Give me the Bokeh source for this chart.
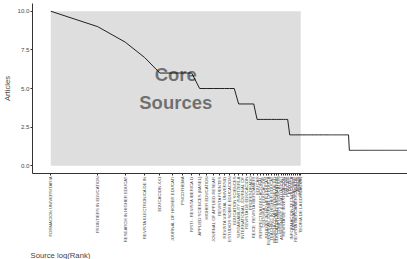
import numpy as np
from bokeh.plotting import figure
from bokeh.models import FixedTicker, NumeralTickFormatter, Range1d, Title
from bokeh.core.properties import value
from bokeh.embed import file_html
from bokeh.resources import INLINE

# ---- data ----
sources = [
    "FORMACION UNIVERSITARIA", "FRONTIERS IN EDUCATION", "RESEARCH IN HIGHER EDUCAT",
    "REVISTA ELECTRONICA DE IN", "EDUCACION XX1", "JOURNAL OF HIGHER EDUCATI",
    "PSICOTHEMA", "RISTI - REVISTA IBERICA D", "APPLIED SCIENCES (BASEL)",
    "HIGHER EDUCATION", "JOURNAL OF APPLIED RESEAR", "REVISTA FUENTES",
    "REVISTA VIRTUAL UNIVERSID", "ESTUDIOS SOBRE EDUCACION", "EDUCATION SCIENCES",
    "SUSTAINABILITY (SWITZERLA", "INTERNATIONAL JOURNAL OF", "REVISTA DE EDUCACION",
    "PROFESORADO", "REICE. REVISTA IBEROAMERI", "EDUCAR", "PERSPECTIVA EDUCACIONAL",
    "CULTURA Y EDUCACION", "STUDIES IN HIGHER EDUCATI", "EUROPEAN JOURNAL OF EDUCA",
    "TEACHING IN HIGHER EDUCAT", "REVISTA COMPLUTENSE DE ED", "EDUCATION AND INFORMATION",
    "COMPUTERS & EDUCATION", "ASSESSMENT & EVALUATION I", "REVISTA DE INVESTIGACION",
    "RELIEVE", "PIXEL-BIT", "EDUTEC", "INFORMACION TECNOLOGICA", "ENSENANZA & TEACHING",
    "REVISTA IBEROAMERICANA DE", "ARBOR", "INNOVAR", "TEORIA DE LA EDUCACION",
]
freq_levels = [10, 9, 8, 7, 6, 5, 4, 3, 2, 1]        # articles per source
sources_per_level = [1, 1, 1, 1, 4, 7, 5, 13, 48, 250]  # how many sources have that count
y_ticks = [0, 2.5, 5, 7.5, 10]
core_label = "Core\nSources"

freq = np.repeat(freq_levels, sources_per_level)
rank = np.arange(1, len(freq) + 1)
log_rank = np.log(rank)
n_core = len(sources)

FONT = "Liberation Sans"

p = figure(width=407, height=259, output_backend="svg", toolbar_location=None,
           x_range=Range1d(-0.27, 5.265), y_range=Range1d(-0.5, 10.5),
           min_border_left=0, min_border_right=0, min_border_top=3, min_border_bottom=0)
p.outline_line_color = None
p.xgrid.visible = False
p.ygrid.visible = False
p.background_fill_color = "white"

p.quad(left=[0], right=[np.log(n_core)], bottom=[0], top=[freq.max()],
       fill_color="#dedede", line_color=None)
p.line(log_rank, freq, line_color="#222222", line_width=1)
p.text(x=[np.log(n_core) / 2], y=[freq.max() / 2], text=[core_label],
       text_align="center", text_baseline="middle", text_font=value(FONT),
       text_font_style="bold", text_font_size="18.5px", text_color="black",
       text_alpha=0.5, text_line_height=1.3)

# y axis
ya = p.yaxis[0]
ya.ticker = FixedTicker(ticks=y_ticks)
ya.formatter = NumeralTickFormatter(format="0.0")
ya.axis_label = "Articles"
ya.axis_label_text_font = FONT
ya.axis_label_text_font_style = "normal"
ya.axis_label_text_font_size = "7.7px"
ya.axis_label_text_color = "#444444"
ya.axis_label_standoff = 2
ya.major_label_text_font = FONT
ya.major_label_text_font_size = "6.2px"
ya.major_label_text_color = "#4d4d4d"
ya.major_label_standoff = 1
ya.major_tick_out = 2
ya.major_tick_in = 0
ya.minor_tick_out = 0
ya.minor_tick_in = 0
ya.axis_line_color = "#333333"
ya.major_tick_line_color = "#333333"

# x axis
xa = p.xaxis[0]
core_ticks = [float(t) for t in log_rank[:n_core]]
xa.ticker = FixedTicker(ticks=core_ticks)
xa.major_label_overrides = {t: s for t, s in zip(core_ticks, sources)}
xa.major_label_orientation = np.pi / 2
xa.major_label_text_font = FONT
xa.major_label_text_font_size = "4.3px"
xa.major_label_text_color = "#4d4d4d"
xa.major_label_standoff = 1
xa.major_tick_out = 2
xa.major_tick_in = 0
xa.minor_tick_out = 0
xa.minor_tick_in = 0
xa.axis_line_color = "#333333"
xa.major_tick_line_color = "#333333"

p.add_layout(Title(text="Source log(Rank)", align="left", text_font=FONT,
                   text_font_style="normal", text_font_size="7.7px",
                   text_color="#444444", offset=-2, standoff=0), "below")

open("out.html", "w").write(file_html(p, INLINE))
